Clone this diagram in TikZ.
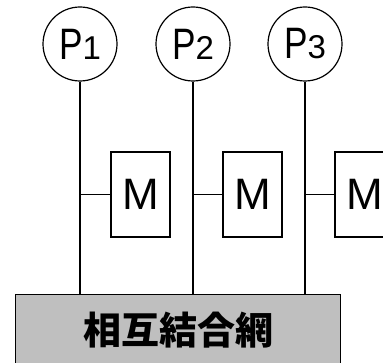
\documentclass[tikz,border=0pt]{standalone}
\usepackage{fontspec}
\setmainfont{Liberation Sans}
\newfontfamily\cjk{Noto Sans CJK JP}
\begin{document}
\begin{tikzpicture}[x=1pt,y=-1pt,
  proc/.style={draw,line width=1.2pt,circle,minimum size=74pt,inner sep=0pt,font=\fontsize{44}{44}\selectfont},
  mem/.style={draw,line width=1.2pt,rectangle,minimum width=59pt,minimum height=85pt,inner sep=0pt,font=\fontsize{44}{44}\selectfont},
  wire/.style={line width=1.2pt}]
\useasboundingbox (0,0) rectangle (383,363);
\clip (0,0) rectangle (383,363);
\node[draw,line width=1.3pt,fill=black!25,minimum width=325pt,minimum height=80pt,inner sep=0pt,anchor=north west] (net) at (15,294) {};
\node[font=\cjk\bfseries\fontsize{38}{38}\selectfont] (netlabel) at (178,330) {相互結合網};
\foreach \i/\x/\mx in {1/80/140.5,2/193/252.5,3/305/364.5}{
  \node[proc] (p\i) at (\x,44) {\scalebox{0.8}[1]{P}{\fontsize{33}{33}\selectfont\i}};
  \node[mem] (m\i) at (\mx,194.5) {M};
  \coordinate (b\i) at (\x,294);
  \draw[wire] (p\i.south) -- (b\i);
  \draw[wire] (m\i.west) -- (\x,194.5);
}
\end{tikzpicture}
\end{document}
